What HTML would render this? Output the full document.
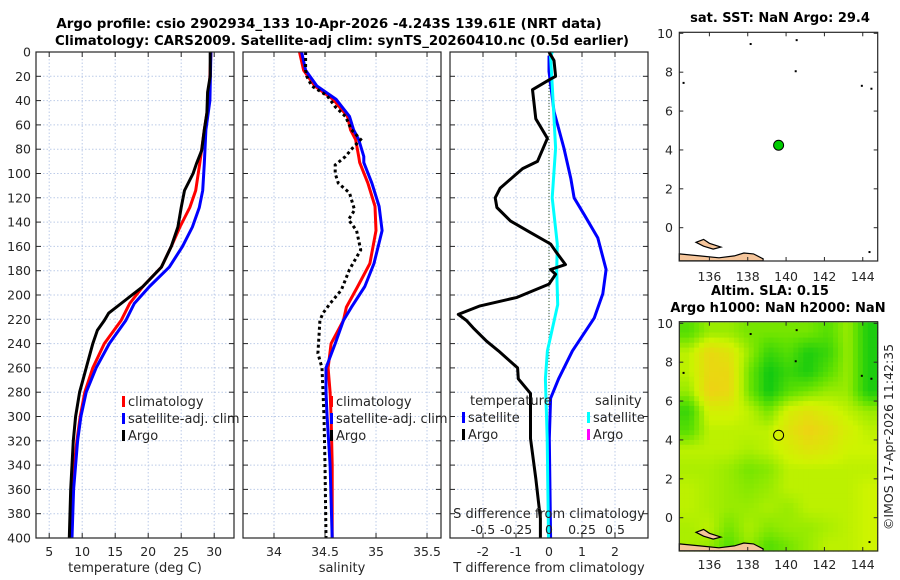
<!DOCTYPE html>
<html><head><meta charset="utf-8"><style>
html,body{margin:0;padding:0;background:#fff;}
svg{display:block;font-family:"DejaVu Sans","Liberation Sans",sans-serif;}
</style></head><body>
<svg id="fig" width="900" height="580" viewBox="0 0 900 580" xmlns="http://www.w3.org/2000/svg">
<text x="329" y="28" text-anchor="middle" font-size="13.4" font-weight="bold" fill="#000">Argo profile: csio 2902934_133 10-Apr-2026 -4.243S 139.61E (NRT data)</text>
<text x="342" y="45" text-anchor="middle" font-size="13.3" font-weight="bold" fill="#000">Climatology: CARS2009. Satellite-adj clim: synTS_20260410.nc (0.5d earlier)</text>
<text x="780" y="22" text-anchor="middle" font-size="13" font-weight="bold">sat. SST: NaN Argo: 29.4</text>
<text x="770" y="295" text-anchor="middle" font-size="13" font-weight="bold">Altim. SLA: 0.15</text>
<text x="778" y="312" text-anchor="middle" font-size="13" font-weight="bold">Argo h1000: NaN h2000: NaN</text>
<text transform="translate(893,437) rotate(-90)" text-anchor="middle" font-size="12.5" fill="#262626">©IMOS 17-Apr-2026 11:42:35</text>
<g id="plots"></g>
</svg>
<script>
// ---- temperature panel data ----
const tArgoDepth = [0,20,28,33,50,64,81,92,100,114,128,144,160,177,193,207,215,221,229,240,260,270,280,300,320,340,360,400];
const tArgoVal   = [29.4,29.4,29.15,29.0,28.9,28.5,28.1,27.3,26.8,25.5,25.0,24.5,23.5,22.0,19.2,15.9,14.0,13.35,12.3,11.6,10.6,10.1,9.6,9.0,8.65,8.45,8.25,8.05];
const tClimDepth = [0,40,64,92,114,128,144,160,177,193,207,221,240,260,280,300,320,340,360,400];
const tClimVal   = [29.5,29.2,28.5,27.8,27.2,26.3,24.8,23.5,22.0,19.2,17.2,15.9,13.35,11.6,10.4,9.7,9.2,8.8,8.55,8.3];
const tSatDepth  = [0,40,64,92,114,128,144,160,177,193,207,221,240,260,280,300,320,340,360,400];
const tSatVal    = [29.5,29.35,28.75,28.5,28.25,27.75,26.7,25.2,23.2,20.2,17.9,16.6,14.1,12.1,10.6,9.8,9.3,9.0,8.7,8.45];
// ---- salinity panel data ----
const sArgoDepth = [0,15,20,28,36,45,53,64,72,79,86,93,100,108,116,130,138,147,163,179,196,207,215,221,235,248,260,300,340,400];
const sArgoVal   = [34.31,34.31,34.32,34.37,34.52,34.6,34.7,34.76,34.85,34.77,34.7,34.6,34.6,34.63,34.74,34.79,34.73,34.81,34.85,34.74,34.66,34.55,34.48,34.45,34.44,34.43,34.47,34.49,34.5,34.51];
const sClimDepth = [0,15,28,39,53,64,72,86,91,108,127,147,174,193,210,221,240,260,280,300,340,400];
const sClimVal   = [34.25,34.29,34.4,34.58,34.72,34.75,34.8,34.83,34.84,34.92,34.99,35.0,34.94,34.82,34.71,34.68,34.56,34.53,34.55,34.56,34.57,34.57];
const sSatDepth  = [0,15,28,39,53,64,72,86,91,108,127,147,174,193,210,221,240,260,280,300,340,400];
const sSatVal    = [34.27,34.31,34.42,34.61,34.74,34.78,34.83,34.88,34.88,34.96,35.03,35.06,34.98,34.89,34.76,34.68,34.6,34.51,34.51,34.52,34.55,34.57];
// ---- difference panel data ----
const dTArgoDepth = [0,7,20,23,31,55,71,90,96,112,120,128,139,148,158,164,175,179,183,191,202,209,216,221,227,238,246,260,269,281,318,351,384,400];
const dTArgoVal   = [0.0,0.15,0.2,0.0,-0.5,-0.4,-0.05,-0.35,-0.8,-1.48,-1.63,-1.58,-1.17,-0.6,0.05,0.2,0.5,0.05,0.2,0.0,-0.97,-2.09,-2.75,-2.5,-2.3,-1.89,-1.53,-0.95,-0.93,-0.56,-0.56,-0.4,-0.26,-0.26];
const dTSatDepth  = [3,16,49,79,104,120,134,153,179,199,219,246,269,285,318,400];
const dTSatVal    = [0.0,0.0,0.15,0.45,0.66,0.76,1.07,1.48,1.73,1.63,1.37,0.71,0.29,0.05,0.01,0.05];
const dSSatDepth  = [0,4,27,79,120,158,180,208,246,269,318,400];
const dSSatVal    = [0.024,0.012,0.024,0.05,0.024,0.063,0.058,0.066,-0.012,-0.027,-0.014,-0.004];
// ---- ticks ----
const depthTicks = [0,20,40,60,80,100,120,140,160,180,200,220,240,260,280,300,320,340,360,380,400];
const tempTicks = [5,10,15,20,25,30];
const salTicks = [34,34.5,35,35.5];
const dTTicks = [-2,-1,0,1,2];
const sDiffLabels = ["-0.5","-0.25","0","0.25","0.5"];
const sDiffVals = [-0.5,-0.25,0,0.25,0.5];
const lonTicks = [136,138,140,142,144];
const latTicks = [0,2,4,6,8,10];
// ---- map data ----
const argoLon = 139.61, argoLat = 4.243;
const slaLatEdges = [10.05,9,8,7,6,5,4,3,2,1,0,-1,-1.71];
const slaGreen = [
 [0.7,0.5,0.5,0.6,0.6,0.6,0.6,0.7,0.5,0.9],
 [0.4,0.1,0.2,0.5,0.8,0.7,0.9,0.8,0.5,0.9],
 [0.4,0.1,0.1,0.6,0.95,0.8,0.9,0.7,0.5,0.9],
 [0.5,0.05,0.1,0.6,0.95,0.7,0.6,0.5,0.5,0.9],
 [0.8,0.3,0.3,0.4,0.6,0.3,0.2,0.3,0.4,0.5],
 [0.7,0.4,0.4,0.4,0.4,0.2,0.05,0.15,0.3,0.4],
 [0.4,0.4,0.4,0.45,0.4,0.3,0.2,0.25,0.35,0.35],
 [0.45,0.45,0.5,0.6,0.55,0.4,0.4,0.4,0.4,0.4],
 [0.4,0.45,0.5,0.55,0.5,0.4,0.4,0.4,0.4,0.35],
 [0.4,0.45,0.5,0.5,0.45,0.5,0.4,0.4,0.4,0.35],
 [0.45,0.4,0.6,0.45,0.55,0.5,0.5,0.45,0.4,0.35],
 [0.45,0.5,0.7,0.5,0.7,0.6,0.5,0.4,0.4,0.35]
];

const NS="http://www.w3.org/2000/svg";
const root=document.getElementById('plots');
function mk(tag,attrs,parent){const e=document.createElementNS(NS,tag);for(const k in attrs)e.setAttribute(k,attrs[k]);(parent||root).appendChild(e);return e;}
function txt(s,x,y,anchor,size,parent){const t=mk('text',{x:x,y:y,'text-anchor':anchor,'font-size':size,fill:'#262626'},parent);t.textContent=s;return t;}

const PT=52, PB=538;
function yD(d){return PT+(d/400)*(PB-PT);}
const panels=[
 {name:'temperature',x0:36,x1:234,v0:3,v1:33,ticks:tempTicks,label:'temperature (deg C)'},
 {name:'salinity',x0:243,x1:441,v0:33.696,v1:35.637,ticks:salTicks,label:'salinity'},
 {name:'difference',x0:450,x1:648,v0:-3,v1:3,ticks:dTTicks,label:'T difference from climatology'}
];
function xf(p){return v=>p.x0+(v-p.v0)/(p.v1-p.v0)*(p.x1-p.x0);}

panels.forEach((p,i)=>{
 const g=mk('g',{});
 
 
 const X=xf(p);
 p.X=X;p.g=g;
 depthTicks.forEach(d=>{const l=mk('line',{x1:p.x0,x2:p.x1,y1:yD(d),y2:yD(d),stroke:'#bccbe8','stroke-width':1,'stroke-dasharray':'1.5,2'},g);
  });
 p.ticks.forEach(v=>{const l=mk('line',{x1:X(v),x2:X(v),y1:PT,y2:PB,stroke:'#bccbe8','stroke-width':1,'stroke-dasharray':'1.5,2'},g);
  });
 depthTicks.forEach(d=>{mk('line',{x1:p.x0,x2:p.x0+5,y1:yD(d),y2:yD(d),stroke:'#262626'},g);mk('line',{x1:p.x1-5,x2:p.x1,y1:yD(d),y2:yD(d),stroke:'#262626'},g);});
 p.ticks.forEach(v=>{mk('line',{x1:X(v),x2:X(v),y1:PB-5,y2:PB,stroke:'#262626'},g);mk('line',{x1:X(v),x2:X(v),y1:PT,y2:PT+5,stroke:'#262626'},g);
  const t=txt(String(v),X(v),556,'middle',12.5,g);});
 const xl=txt(p.label,(p.x0+p.x1)/2,572,'middle',13,g);
 
 
});
depthTicks.forEach(d=>{const t=txt(String(d),31,yD(d)+4.5,'end',12.5);});

function series(p,depths,vals,color,name,extra){
 const pts=depths.map((d,i)=>p.X(vals[i]).toFixed(1)+','+yD(d).toFixed(1)).join(' ');
 const a={points:pts,fill:'none',stroke:color,'stroke-width':3,'stroke-linejoin':'round'};
 if(extra)Object.assign(a,extra);
 const l=mk('polyline',a,p.g);
 
 
 return l;
}
const [P1,P2,P3]=panels;
series(P1,tClimDepth,tClimVal,'#ff0000','temp-climatology-line');
series(P1,tSatDepth,tSatVal,'#0000ff','temp-satellite-line');
series(P1,tArgoDepth,tArgoVal,'#000000','temp-argo-line');
series(P2,sClimDepth,sClimVal,'#ff0000','sal-climatology-line');
series(P2,sSatDepth,sSatVal,'#0000ff','sal-satellite-line');
series(P2,sArgoDepth,sArgoVal,'#000000','sal-argo-line',{'stroke-dasharray':'3,3','stroke-linejoin':'miter'});
const z=mk('line',{x1:P3.X(0),x2:P3.X(0),y1:PT,y2:PB,stroke:'#3a5a2a','stroke-width':1,'stroke-dasharray':'1,2'},P3.g);


series(P3,dTSatDepth,dTSatVal,'#0000ff','tdiff-satellite-line');
series(P3,dSSatDepth,dSSatVal.map(v=>v*4),'#00ffff','sdiff-satellite-line');
series(P3,dTArgoDepth,dTArgoVal,'#000000','tdiff-argo-line');
const sdt=txt('S difference from climatology',P3.X(0)-0,518,'middle',13,P3.g);


sDiffVals.forEach((v,i)=>{const t=txt(sDiffLabels[i],P3.X(v*4),534,'middle',12.5,P3.g);
 });
panels.forEach(p=>{const r=mk('rect',{x:p.x0,y:PT,width:p.x1-p.x0,height:PB-PT,fill:'none',stroke:'#262626','stroke-width':1.2},p.g);
 });

function legendEntry(g,x,y,color,label,name){
 const e=mk('g',{},g);
 
 
 mk('rect',{x:x,y:y-10,width:3,height:11,fill:color},e);
 txt(label,x+6,y,'start',13,e);
}
legendEntry(P1.g,122,406,'#ff0000','climatology','legend-entry-climatology');
legendEntry(P1.g,122,423,'#0000ff','satellite-adj. clim','legend-entry-satellite');
legendEntry(P1.g,122,440,'#000000','Argo','legend-entry-argo');
legendEntry(P2.g,330,406,'#ff0000','climatology','legend-entry-climatology');
legendEntry(P2.g,330,423,'#0000ff','satellite-adj. clim','legend-entry-satellite');
legendEntry(P2.g,330,440,'#000000','Argo','legend-entry-argo');
const lt=txt('temperature',470,405,'start',13,P3.g);
const ls=txt('salinity',595,405,'start',13,P3.g);
legendEntry(P3.g,462,422,'#0000ff','satellite','legend-entry-t-satellite');
legendEntry(P3.g,462,439,'#000000','Argo','legend-entry-t-argo');
legendEntry(P3.g,587,422,'#00ffff','satellite','legend-entry-s-satellite');
legendEntry(P3.g,587,439,'#ff00ff','Argo','legend-entry-s-argo');

// ---- maps ----
const MX0=679.3,MX1=877.7,LON0=134.43,PXD=19.17,PYD=19.44;
function mLon(l){return MX0+(l-LON0)*PXD;}
const maps=[{name:'sst-map',top:32.3,bot:261,lat0y:227.7,labY:281},{name:'sla-map',top:321.7,bot:551,lat0y:517.7,labY:569}];
function lerp(a,b,t){return a+(b-a)*t;}
function slaColor(v){
 const stops=[[0,[244,204,24]],[0.35,[206,244,0]],[0.65,[100,226,0]],[1,[0,196,20]]];
 for(let i=1;i<stops.length;i++){if(v<=stops[i][0]){const t=(v-stops[i-1][0])/(stops[i][0]-stops[i-1][0]);const a=stops[i-1][1],b=stops[i][1];return 'rgb('+[0,1,2].map(k=>Math.round(lerp(a[k],b[k],t))).join(',')+')';}}
 return 'rgb(0,196,20)';
}
function sampleSla(r,c){ // fractional row/col in cell-center coords, bilinear
 const nr=slaGreen.length,nc=slaGreen[0].length;
 r=Math.max(0,Math.min(nr-1,r));c=Math.max(0,Math.min(nc-1,c));
 const r0=Math.floor(r),c0=Math.floor(c),r1=Math.min(nr-1,r0+1),c1=Math.min(nc-1,c0+1);
 const fr=r-r0,fc=c-c0;
 return lerp(lerp(slaGreen[r0][c0],slaGreen[r0][c1],fc),lerp(slaGreen[r1][c0],slaGreen[r1][c1],fc),fr);
}
maps.forEach((m,mi)=>{
 const g=mk('g',{});
 
 
 const Y=lat=>m.lat0y-lat*PYD;
 if(mi===1){
  const ncol=slaGreen[0].length, cw=(MX1-MX0)/ncol, S=4;
  slaGreen.forEach((row,ri)=>row.forEach((v,ci)=>{
   const y0=Y(slaLatEdges[ri]),y1=Y(slaLatEdges[ri+1]);
   const sh=(y1-y0)/S, sw=cw/S;
   for(let a=0;a<S;a++)for(let b=0;b<S;b++){
    const val=sampleSla(ri+(a+0.5)/S-0.5,ci+(b+0.5)/S-0.5);
    const c=mk('rect',{x:(MX0+ci*cw+b*sw).toFixed(1),y:(y0+a*sh).toFixed(1),width:(sw+0.6).toFixed(1),height:(sh+0.6).toFixed(1),fill:slaColor(val)},g);
    
    
   }
  }));
 }
 const land=[[[135.3,-0.75],[135.7,-0.6],[136.0,-0.8],[136.6,-1.0],[136.2,-1.1],[135.7,-0.95]],
  [[134.43,-1.35],[135.5,-1.45],[136.5,-1.55],[137.3,-1.45],[137.8,-1.3],[138.3,-1.35],[138.8,-1.6],[138.8,-1.71],[134.43,-1.71]]];
 land.forEach(poly=>{const p=mk('polygon',{points:poly.map(q=>mLon(q[0]).toFixed(1)+','+Y(q[1]).toFixed(1)).join(' '),fill:'#f5c59b',stroke:'#000','stroke-width':1.2},g);
  });
 [[138.1,9.5],[140.5,9.7],[134.6,7.5],[143.9,7.35],[144.4,7.2],[140.45,8.1],[144.3,-1.2]].forEach(q=>{mk('rect',{x:mLon(q[0]),y:Y(q[1]),width:2,height:2,fill:'#000'},g);});
 const c=mk('circle',{cx:mLon(argoLon),cy:Y(argoLat),r:5,fill:mi===0?'#00cc00':'none',stroke:'#000','stroke-width':1},g);
 
 
 const fr=mk('rect',{x:MX0,y:m.top,width:MX1-MX0,height:m.bot-m.top,fill:'none',stroke:'#262626','stroke-width':1.2},g);
 
 
 lonTicks.forEach(l=>{mk('line',{x1:mLon(l),x2:mLon(l),y1:m.bot,y2:m.bot-4,stroke:'#262626'},g);mk('line',{x1:mLon(l),x2:mLon(l),y1:m.top,y2:m.top+4,stroke:'#262626'},g);
  const t=txt(String(l),mLon(l),m.labY,'middle',12.5,g);});
 latTicks.forEach(l=>{mk('line',{x1:MX0,x2:MX0+4,y1:Y(l),y2:Y(l),stroke:'#262626'},g);mk('line',{x1:MX1-4,x2:MX1,y1:Y(l),y2:Y(l),stroke:'#262626'},g);
  const t=txt(String(l),673,Y(l)+4.5,'end',12.5,g);});
});
</script>
</body></html>
